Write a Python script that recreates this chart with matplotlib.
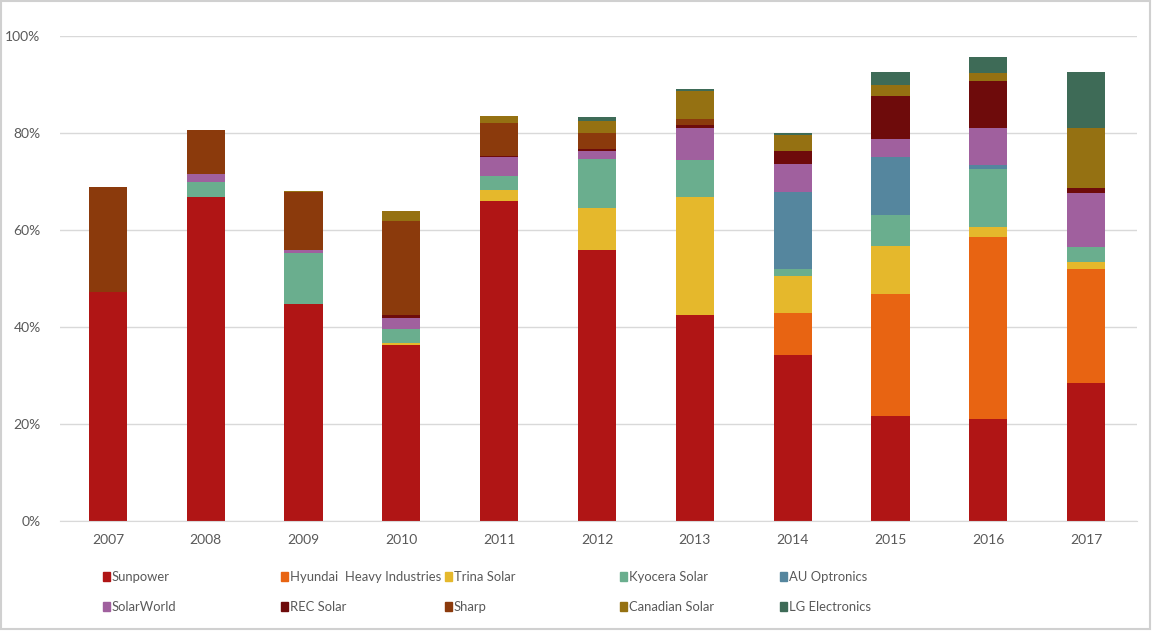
import matplotlib.pyplot as plt
import numpy as np
from matplotlib.patches import Rectangle

years = ["2007", "2008", "2009", "2010", "2011", "2012", "2013", "2014", "2015", "2016", "2017"]

# market share (%) per manufacturer, stacked in this order
sunpower = [47.2, 66.9, 44.8, 36.2, 65.9, 55.9, 42.5, 34.2, 21.7, 21.1, 28.5]
hyundai = [0, 0, 0, 0, 0, 0, 0, 8.7, 25.2, 37.5, 23.5]
trina = [0, 0, 0, 0.5, 2.4, 8.7, 24.4, 7.7, 9.7, 2.0, 1.3]
kyocera = [0, 3.0, 10.5, 2.8, 2.8, 10.0, 7.6, 1.4, 6.4, 12.0, 3.2]
au_optronics = [0, 0, 0, 0, 0, 0, 0, 15.9, 12.0, 0.9, 0]
solarworld = [0, 1.7, 0.6, 2.4, 4.0, 1.7, 6.5, 5.8, 3.7, 7.5, 11.1]
rec_solar = [0, 0, 0, 0.5, 0.2, 0.4, 0.6, 2.6, 8.9, 9.7, 1.1]
sharp = [21.7, 9.1, 11.9, 19.5, 6.8, 3.2, 1.3, 0, 0, 0, 0]
canadian = [0, 0, 0.2, 2.0, 1.4, 2.5, 5.8, 3.2, 2.4, 1.7, 12.3]
lg = [0, 0, 0, 0, 0, 0.9, 0.3, 0.4, 2.6, 3.3, 11.6]

series = [
    ("Sunpower", sunpower, "#B01515"),
    ("Hyundai  Heavy Industries", hyundai, "#E86412"),
    ("Trina Solar", trina, "#E5B82C"),
    ("Kyocera Solar", kyocera, "#6AAE8E"),
    ("AU Optronics", au_optronics, "#55869E"),
    ("SolarWorld", solarworld, "#A0609E"),
    ("REC Solar", rec_solar, "#6E0B0B"),
    ("Sharp", sharp, "#8B3A0C"),
    ("Canadian Solar", canadian, "#957112"),
    ("LG Electronics", lg, "#3E6B57"),
]

plt.rcParams["font.family"] = ["Lato", "DejaVu Sans"]
text_color = "#595959"

fig = plt.figure(figsize=(11.56, 6.31), dpi=100)
ax = fig.add_axes([60 / 1156, 110 / 631, (1137 - 60) / 1156, 485 / 631])

x = np.arange(len(years))
bottom = np.zeros(len(years))
for name, vals, color in series:
    vals = np.array(vals) / 100
    ax.bar(x, vals, 0.39, bottom=bottom, color=color, label=name, linewidth=0)
    bottom += vals

ax.set_xlim(-0.49, 10.52)
ax.set_ylim(0, 1)
ax.set_yticks(np.arange(0, 1.01, 0.2))
ax.set_yticklabels([f"{int(v * 100)}%" for v in np.arange(0, 1.01, 0.2)])
ax.set_xticks(x)
ax.set_xticklabels(years)
ax.tick_params(colors=text_color, labelsize=10, length=0)
ax.tick_params(axis="x", pad=9)
ax.tick_params(axis="y", pad=14)
ax.yaxis.grid(True, color="#D9D9D9", linewidth=1)
ax.set_axisbelow(True)
for s in ["top", "right", "left"]:
    ax.spines[s].set_visible(False)
ax.spines["bottom"].set_color("#D9D9D9")

# legend laid out like the original, two rows of five
col_x = [103, 281, 445, 620, 780]
row_y = [631 - 577, 631 - 607]
for i, (name, vals, color) in enumerate(series):
    px = col_x[i % 5]
    py = row_y[i // 5]
    fig.patches.append(Rectangle((px / 1156, (py - 4) / 631), 7 / 1156, 9 / 631,
                                 transform=fig.transFigure, color=color, figure=fig))
    fig.text((px + 9) / 1156, py / 631, name, color=text_color, fontsize=9.4,
             va="center", ha="left")

# light frame around the image
fig.patches.append(Rectangle((0.001, 0.003), 0.994, 0.995, transform=fig.transFigure,
                             fill=False, edgecolor="#D0D0D0", linewidth=1.5, figure=fig))

fig.savefig("out.png", dpi=100)
